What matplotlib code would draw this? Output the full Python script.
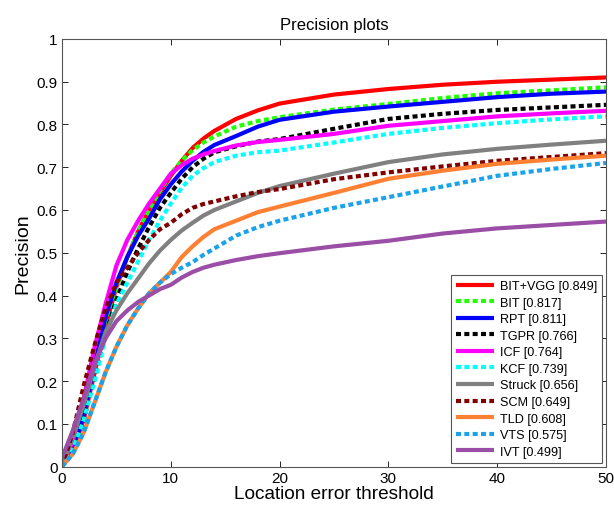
import matplotlib
matplotlib.use("Agg")
from matplotlib import pyplot as plt

plt.rcParams["font.family"] = ["Liberation Sans", "DejaVu Sans"]

# location error thresholds (pixels)
thresholds = [0, 1, 2, 3, 4, 5, 6, 7, 8, 9, 10, 11, 12, 13, 14, 16, 18, 20, 25, 30, 35, 40, 45, 50]

bit_vgg = [0.0, 0.04, 0.11, 0.22, 0.33, 0.42, 0.49, 0.55, 0.60, 0.64, 0.68, 0.715, 0.745, 0.767, 0.785, 0.813, 0.833, 0.849, 0.870, 0.883, 0.893, 0.900, 0.905, 0.910]
bit = [0.0, 0.04, 0.11, 0.22, 0.33, 0.42, 0.49, 0.55, 0.60, 0.645, 0.685, 0.715, 0.74, 0.758, 0.772, 0.795, 0.808, 0.817, 0.835, 0.848, 0.862, 0.873, 0.880, 0.887]
rpt = [0.0, 0.04, 0.12, 0.24, 0.35, 0.43, 0.49, 0.54, 0.58, 0.625, 0.66, 0.69, 0.715, 0.736, 0.752, 0.773, 0.795, 0.811, 0.830, 0.842, 0.853, 0.864, 0.872, 0.877]
tgpr = [0.0, 0.04, 0.11, 0.21, 0.31, 0.39, 0.455, 0.51, 0.56, 0.605, 0.64, 0.673, 0.70, 0.72, 0.735, 0.749, 0.760, 0.766, 0.790, 0.813, 0.825, 0.834, 0.840, 0.846]
icf = [0.0, 0.06, 0.16, 0.28, 0.38, 0.47, 0.53, 0.575, 0.615, 0.65, 0.685, 0.705, 0.72, 0.73, 0.738, 0.751, 0.759, 0.764, 0.778, 0.797, 0.808, 0.819, 0.826, 0.832]
kcf = [0.0, 0.04, 0.11, 0.20, 0.30, 0.38, 0.43, 0.48, 0.53, 0.575, 0.615, 0.652, 0.68, 0.698, 0.712, 0.727, 0.735, 0.739, 0.758, 0.778, 0.792, 0.803, 0.812, 0.819]
struck = [0.0, 0.07, 0.145, 0.235, 0.315, 0.365, 0.405, 0.44, 0.475, 0.505, 0.53, 0.552, 0.57, 0.587, 0.60, 0.62, 0.64, 0.656, 0.685, 0.712, 0.730, 0.743, 0.753, 0.762]
scm = [0.0, 0.08, 0.19, 0.285, 0.37, 0.43, 0.465, 0.50, 0.53, 0.555, 0.57, 0.59, 0.605, 0.614, 0.62, 0.632, 0.642, 0.649, 0.672, 0.688, 0.702, 0.715, 0.724, 0.733]
tld = [0.0, 0.03, 0.08, 0.15, 0.22, 0.28, 0.33, 0.37, 0.405, 0.43, 0.455, 0.49, 0.515, 0.537, 0.555, 0.575, 0.595, 0.608, 0.64, 0.673, 0.692, 0.708, 0.718, 0.727]
vts = [0.0, 0.03, 0.08, 0.15, 0.22, 0.28, 0.33, 0.37, 0.405, 0.43, 0.45, 0.465, 0.478, 0.495, 0.51, 0.54, 0.56, 0.575, 0.605, 0.630, 0.655, 0.680, 0.696, 0.710]
ivt = [0.02, 0.085, 0.16, 0.24, 0.30, 0.34, 0.365, 0.385, 0.40, 0.415, 0.425, 0.442, 0.455, 0.465, 0.472, 0.483, 0.492, 0.499, 0.515, 0.528, 0.545, 0.557, 0.565, 0.573]

names = ["BIT+VGG [0.849]", "BIT [0.817]", "RPT [0.811]", "TGPR [0.766]", "ICF [0.764]",
         "KCF [0.739]", "Struck [0.656]", "SCM [0.649]", "TLD [0.608]", "VTS [0.575]", "IVT [0.499]"]
curves = [bit_vgg, bit, rpt, tgpr, icf, kcf, struck, scm, tld, vts, ivt]
colors = ["#ff0000", "#22ff00", "#0000ff", "#000000", "#ff00ff", "#00ffff",
          "#808080", "#800000", "#ff8033", "#1aa3e8", "#9b4ea6"]
dotted = [False, True, False, True, False, True, False, True, False, True, False]

fig = plt.figure(figsize=(6.14, 5.10), dpi=100)
ax = fig.add_axes([0.101, 0.0833, 0.886, 0.8383])

for y, name, c, d in zip(curves, names, colors, dotted):
    ls = (0, (1.2, 0.8)) if d else "-"
    ax.plot(thresholds, y, color=c, lw=3.0, ls=ls, label=name,
            dash_capstyle="butt", solid_capstyle="butt")

ax.set_xlim(0, 50)
ax.set_ylim(0, 1)
ax.set_xticks(range(0, 51, 10))
ax.set_yticks([i / 10 for i in range(11)])
ax.set_yticklabels(["0", "0.1", "0.2", "0.3", "0.4", "0.5", "0.6", "0.7", "0.8", "0.9", "1"])
ax.tick_params(direction="in", top=True, right=True, labelsize=11, length=4, width=0.6, pad=3)
for s in ax.spines.values():
    s.set_linewidth(0.8)
    s.set_color("#555555")

ax.set_title("Precision plots", fontsize=12, pad=7)
ax.set_xlabel("Location error threshold", fontsize=13.7, labelpad=0)
ax.set_ylabel("Precision", fontsize=14, labelpad=4)

leg = ax.legend(loc="lower right", fontsize=9.1, handlelength=3.0, handletextpad=0.5,
                labelspacing=0.36, borderpad=0.4, fancybox=False, framealpha=1,
                borderaxespad=0.3)
leg.get_frame().set_edgecolor("#555555")
leg.get_frame().set_linewidth(0.8)

fig.savefig("out.png", dpi=100)
